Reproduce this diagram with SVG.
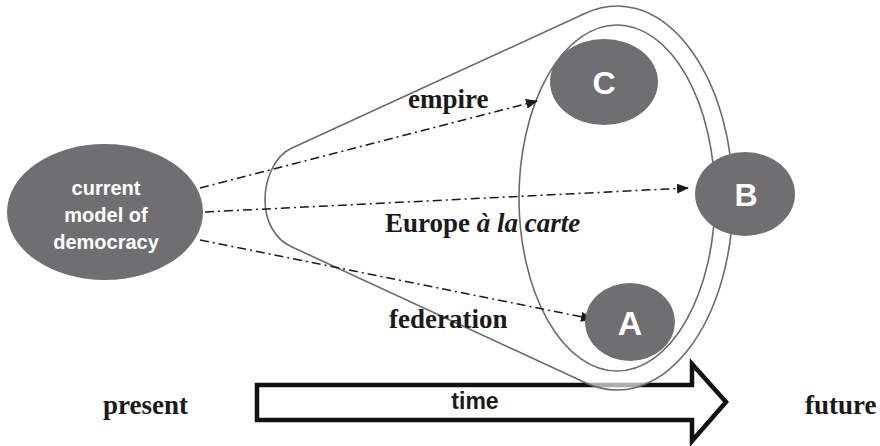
<svg xmlns="http://www.w3.org/2000/svg" width="880" height="446" viewBox="0 0 880 446">
<style>
.node{fill:#6f6f72;}
.ntext{fill:#ffffff;font-family:"Liberation Sans",Arial,sans-serif;font-weight:bold;text-anchor:middle;}
.lbl{fill:#1a1a1a;font-family:"Liberation Serif","Times New Roman",serif;font-weight:bold;font-size:27px;}
.conn{stroke:#1a1a1a;stroke-width:1.5;fill:none;stroke-dasharray:9 4 2 4;}
.outline{stroke:#6a6a6a;stroke-width:1.6;}
</style>
<defs>
<marker id="ah" viewBox="0 0 12 10" refX="11" refY="5" markerWidth="12" markerHeight="10" markerUnits="userSpaceOnUse" orient="auto">
<path d="M0,0 L12,5 L0,10 Z" fill="#1a1a1a"/>
</marker>
</defs>
<rect width="880" height="446" fill="#ffffff"/>
<g id="time-arrow">
<path d="M257,385 L692,385 L692,364 L726,402 L692,441 L692,420 L257,420 Z" fill="#ffffff" stroke="#111111" stroke-width="4.5" stroke-linejoin="miter"/>
<text x="475" y="409" text-anchor="middle" font-family="Liberation Sans,Arial,sans-serif" font-weight="bold" font-size="23" fill="#1a1a1a">time</text>
</g>
<g id="cone">
<path class="outline" d="M586,13 L292,148 C274,156 265,180 265,200 C265,220 274,239 292,247 L586,383 A116 192 0 1 0 586,13 Z" fill="#ffffff" fill-opacity="0.65"/>
<ellipse class="outline" cx="617" cy="198" rx="98" ry="173" fill="none"/>
</g>
<g id="connectors">
<line class="conn" x1="200" y1="188" x2="537" y2="101" marker-end="url(#ah)"/>
<line class="conn" x1="205" y1="212" x2="688" y2="188" marker-end="url(#ah)"/>
<line class="conn" x1="200" y1="240" x2="592" y2="319" marker-end="url(#ah)"/>
</g>
<g id="node-current">
<ellipse class="node" cx="105" cy="212" rx="98" ry="68"/>
<text class="ntext" font-size="20" x="106" y="195">current</text>
<text class="ntext" font-size="20" x="106" y="222">model of</text>
<text class="ntext" font-size="20" x="106" y="249">democracy</text>
</g>
<g id="node-C">
<ellipse class="node" cx="604" cy="82" rx="54" ry="43"/>
<text class="ntext" font-size="32" x="604" y="94">C</text>
</g>
<g id="node-B">
<ellipse class="node" cx="745" cy="194" rx="50" ry="42"/>
<text class="ntext" font-size="32" x="746" y="206">B</text>
</g>
<g id="node-A">
<ellipse class="node" cx="630" cy="322" rx="45" ry="39"/>
<text class="ntext" font-size="34" x="630" y="335">A</text>
</g>
<g id="labels">
<text class="lbl" x="408" y="108">empire</text>
<text class="lbl" x="385" y="232">Europe <tspan font-style="italic">à la carte</tspan></text>
<text class="lbl" x="389" y="328">federation</text>
<text class="lbl" x="103" y="414">present</text>
<text class="lbl" x="805" y="414">future</text>
</g>
</svg>
